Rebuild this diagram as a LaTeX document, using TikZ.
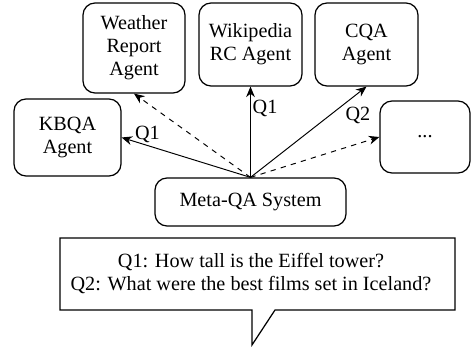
\documentclass[tikz,border=0pt]{standalone}
\usepackage{fontspec}
\setmainfont{Liberation Serif}
\usetikzlibrary{positioning, arrows.meta}

\begin{document}
\begin{tikzpicture}[
    % GLOBAL CFG
    x=0.02cm, y=-0.02cm,
    font=\fontsize{11.5}{13}\selectfont,
    >={Stealth[length=6pt, width=5pt]},
    % Styles
    agent/.style={
        rectangle,
        rounded corners=2.4mm,
        draw,
        line width=.7pt,
        align=center,
        inner sep=1pt,
    },
    query/.style={
        ->,
        line width=.55pt,
    },
    unused/.style={
        ->,
        dashed,
        line width=.55pt,
    },
    qlabel/.style={
        inner sep=1pt,
    },
]
    \useasboundingbox (0,0) rectangle (471,347);

    % Draw the agents
    \node [agent, minimum width=2.04cm, minimum height=1.8cm] (weather) at (134,48) {Weather\\Report\\Agent};
    \node [agent, minimum width=2.06cm, minimum height=1.66cm] (wiki) at (250.5,44.5) {Wikipedia\\RC Agent};
    \node [agent, minimum width=2.06cm, minimum height=1.66cm] (cqa) at (366.5,44.5) {CQA\\Agent};
    \node [agent, minimum width=2.14cm, minimum height=1.54cm] (kbqa) at (67.5,137.5) {KBQA\\Agent};
    \node [agent, minimum width=1.8cm, minimum height=1.44cm] (more) at (425,137) {...};

    % Draw the system
    \node [agent, minimum width=3.82cm, minimum height=.96cm] (meta) at (250.5,202) {Meta-QA System};

    % Draw the questions bubble
    \node [align=center] (questions) at (251,273.5) {Q1: How tall is the Eiffel tower?\\Q2: What were the best films set in Iceland?};
    \coordinate (tip) at (252,345);
    \draw [line width=.7pt] (60,238) -- (455,238) -- (455,310) -- (275,310) -- (tip) -- (252,310) -- (60,310) -- cycle;

    % Connecting all
    \draw [query] (meta.north) -- (kbqa.east) node[qlabel, pos=.8, above] {Q1};
    \draw [unused] (meta.north) -- (weather.south);
    \draw [query] (meta.north) -- (wiki.south) node[qlabel, pos=.76, right] {Q1};
    \draw [query] (meta.north) -- (cqa.south) node[qlabel, pos=.8, below right] {Q2};
    \draw [unused] (meta.north) -- (more.west);

\end{tikzpicture}
\end{document}
